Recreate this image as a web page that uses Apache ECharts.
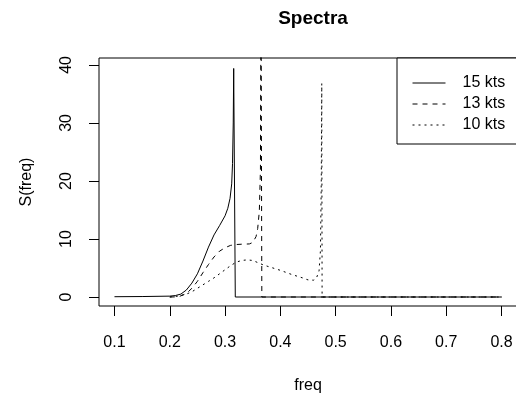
<!DOCTYPE html>
<html>
<head>
<meta charset="utf-8">
<script src="https://cdn.jsdelivr.net/npm/echarts@6/dist/echarts.min.js"></script>
<style>
  html, body { margin: 0; padding: 0; background: #fff; }
  #main { width: 516px; height: 394px; }
</style>
</head>
<body>
<div id="main"></div>
<script>
// tick labels
const xTicks = [0.1, 0.2, 0.3, 0.4, 0.5, 0.6, 0.7, 0.8];
const yTicks = [0, 10, 20, 30, 40];
const seriesNames = ['15 kts', '13 kts', '10 kts'];

// 15 kts
const freq15 = [0.10, 0.15, 0.20, 0.21, 0.22, 0.23, 0.24, 0.25, 0.26, 0.27, 0.28, 0.29, 0.30, 0.305, 0.309, 0.312, 0.3135, 0.3148, 0.3156, 0.3185, 0.80];
const spec15 = [0.05, 0.08, 0.15, 0.25, 0.5, 1.2, 2.4, 4.0, 6.2, 8.6, 10.7, 12.3, 14.0, 15.3, 17.0, 19.5, 23, 30, 39.4, 0, 0];

// 13 kts
const freq13 = [0.20, 0.21, 0.2175, 0.23, 0.24, 0.25, 0.26, 0.27, 0.28, 0.29, 0.30, 0.31, 0.32, 0.33, 0.344, 0.35, 0.356, 0.359, 0.362, 0.364, 0.365, 0.3665, 0.80];
const spec13 = [0, 0.02, 0.1, 0.6, 1.5, 2.7, 4.2, 5.6, 6.9, 7.9, 8.5, 8.9, 9.05, 9.1, 9.15, 9.4, 10.4, 11.8, 14.8, 22, 55, 0, 0];

// 10 kts
const freq10 = [0.20, 0.215, 0.23, 0.24, 0.25, 0.26, 0.27, 0.28, 0.29, 0.30, 0.31, 0.32, 0.33, 0.34, 0.35, 0.36, 0.37, 0.38, 0.40, 0.42, 0.44, 0.45, 0.46, 0.465, 0.47, 0.4725, 0.474, 0.4749, 0.4755, 0.80];
const spec10 = [0, 0.15, 0.5, 0.9, 1.5, 2.1, 2.7, 3.3, 4.0, 4.7, 5.4, 6.0, 6.3, 6.4, 6.3, 5.9, 5.5, 5.2, 4.6, 3.9, 3.3, 2.95, 2.9, 3.2, 4.5, 8, 20, 36.8, 0, 0];

const zip = (xs, ys) => xs.map((x, i) => [x, ys[i]]);

const font = 'Liberation Sans, Arial, sans-serif';

let chart = echarts.init(document.getElementById('main'));
let option = {
  animation: false,
  backgroundColor: '#fff',
  title: {
    text: 'Spectra',
    left: 308,
    textAlign: 'center',
    top: 4,
    textStyle: { fontFamily: font, fontSize: 19, fontWeight: 'bold', color: '#000' }
  },
  legend: {
    data: seriesNames,
    orient: 'vertical',
    left: 397,
    top: 58,
    padding: [17, 20, 11, 15],
    itemGap: 5,
    itemWidth: 33,
    itemHeight: 14,
    borderColor: '#000',
    borderWidth: 1,
    backgroundColor: '#fff',
    itemStyle: { color: 'transparent', borderWidth: 0, opacity: 0 },
    lineStyle: { width: 1 },
    textStyle: { fontFamily: font, fontSize: 16, color: '#000', padding: [0, 0, 0, 12] }
  },
  grid: {
    left: 99,
    top: 58,
    width: 418,
    height: 248,
    show: true,
    borderColor: '#000',
    borderWidth: 1,
    containLabel: false,
    outerBoundsMode: 'none'
  },
  xAxis: {
    type: 'value',
    min: 0.072,
    max: 0.828,
    name: 'freq',
    nameLocation: 'middle',
    nameGap: 72,
    nameTextStyle: { fontFamily: font, fontSize: 16, color: '#000' },
    axisLine: { show: false, onZero: false },
    axisTick: { show: true, length: 10, customValues: xTicks, lineStyle: { color: '#000' } },
    axisLabel: {
      customValues: xTicks,
      margin: 29,
      fontFamily: font, fontSize: 16, color: '#000',
      formatter: v => v.toFixed(1)
    },
    splitLine: { show: false }
  },
  yAxis: {
    type: 'value',
    min: -1.55,
    max: 41.2,
    name: 'S(freq)',
    nameLocation: 'middle',
    nameRotate: 90,
    nameGap: 64,
    nameTextStyle: { fontFamily: font, fontSize: 16, color: '#000' },
    axisLine: { show: false, onZero: false },
    axisTick: { show: true, length: 10, customValues: yTicks, lineStyle: { color: '#000' } },
    axisLabel: {
      customValues: yTicks,
      rotate: 90,
      margin: 24,
      fontFamily: font, fontSize: 16, color: '#000'
    },
    splitLine: { show: false }
  },
  series: [
    {
      name: seriesNames[0],
      type: 'line',
      data: zip(freq15, spec15),
      symbol: 'none',
      color: '#000',
      lineStyle: { color: '#000', width: 1, type: 'solid' }
    },
    {
      name: seriesNames[1],
      type: 'line',
      data: zip(freq13, spec13),
      symbol: 'none',
      color: '#000',
      lineStyle: { color: '#000', width: 1, type: [5, 5] }
    },
    {
      name: seriesNames[2],
      type: 'line',
      data: zip(freq10, spec10),
      symbol: 'none',
      color: '#000',
      lineStyle: { color: '#000', width: 1, type: [2, 4] }
    }
  ]
};
chart.setOption(option);
window.addEventListener('resize', chart.resize);
</script>
</body>
</html>
